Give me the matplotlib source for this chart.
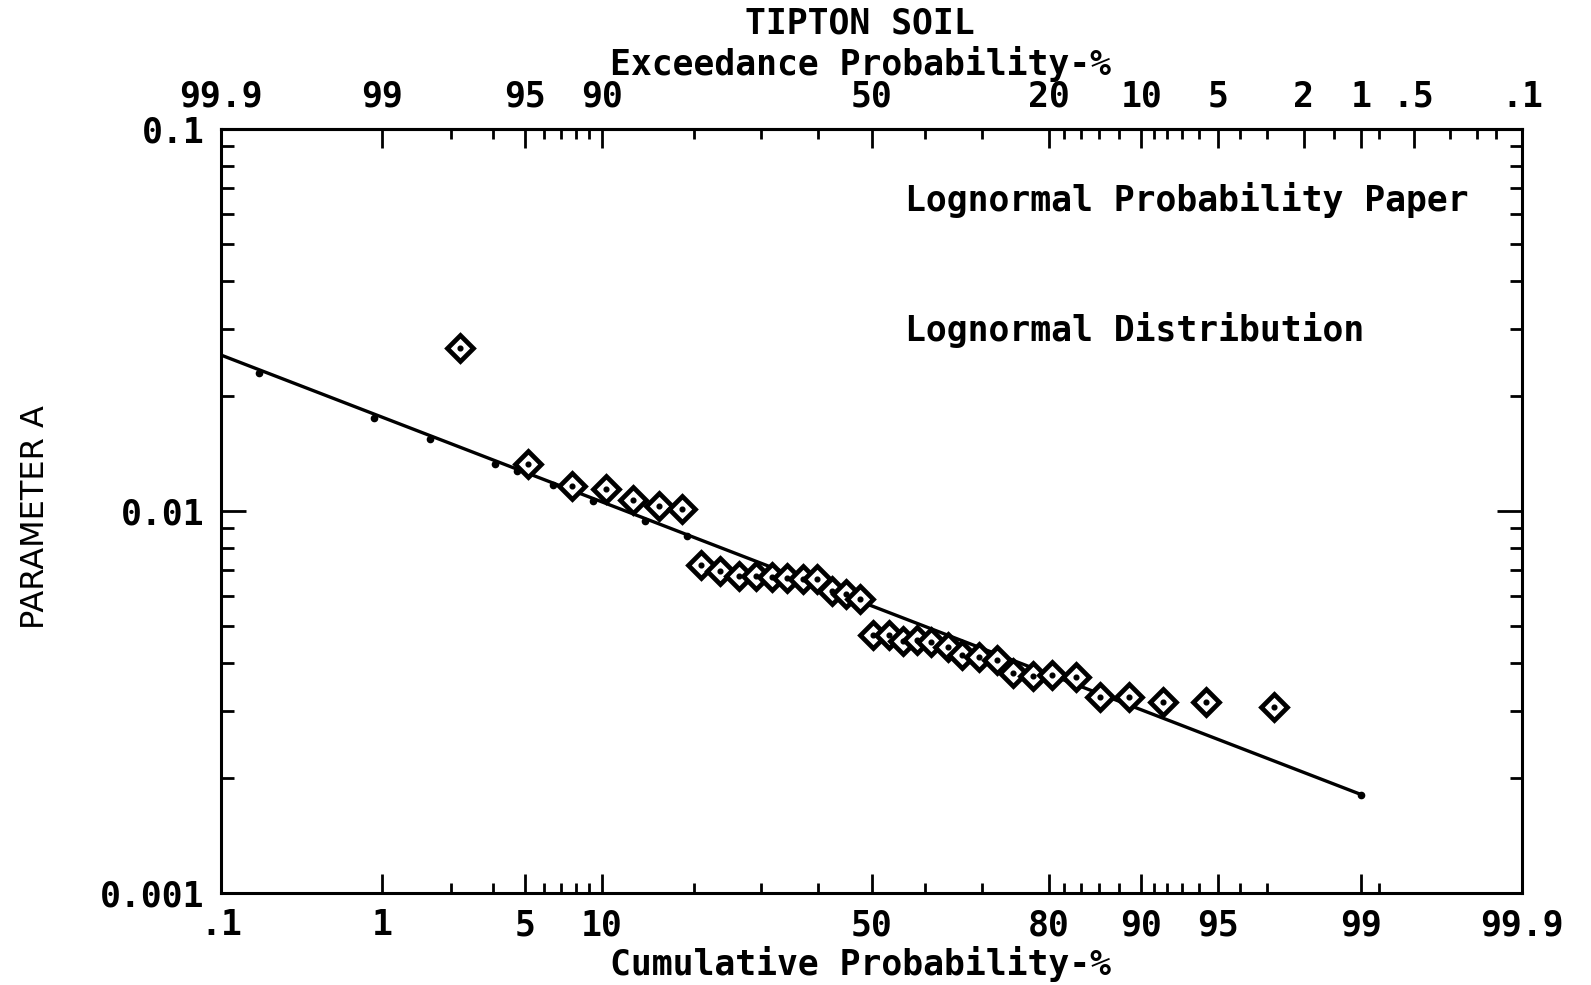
import math
import numpy as np
import matplotlib
matplotlib.use("Agg")
import matplotlib.pyplot as plt
from matplotlib.ticker import NullFormatter

cum_pct = [2.52, 5.14, 7.71, 10.35, 12.88, 15.66, 18.35,
           20.9, 23.64, 26.4, 29.14, 31.84, 34.48, 37.17, 39.75, 42.56, 45.22, 47.9,
           50.2, 53.4, 55.9, 58.6, 61.2, 64.2, 66.6, 69.6, 72.4, 75.0, 77.9, 80.5,
           83.4, 86.1, 88.9, 91.7, 94.4, 97.2]
param_a = [0.0267, 0.0133, 0.0116, 0.0114, 0.0107, 0.0103, 0.0101,
           0.00721, 0.00696, 0.00675, 0.00675, 0.0067, 0.00666, 0.00662, 0.00662, 0.00619, 0.00608, 0.0059,
           0.00475, 0.00473, 0.00457, 0.00459, 0.00454, 0.0044, 0.0042, 0.00416, 0.00408, 0.00377, 0.00369, 0.00372,
           0.00368, 0.00326, 0.00326, 0.00316, 0.00316, 0.00306]

# fitted lognormal line and the small marks hanging on it
fit_pct = [0.1, 99]
fit_val = [0.0256, 0.00181]
mark_pct = [0.18, 0.9, 1.8, 3.7, 4.6, 6.5, 9.3, 14.1, 19.0, 99]
mark_val = [0.0230, 0.0175, 0.0154, 0.0133, 0.0127, 0.0117, 0.0106, 0.0094, 0.0086, 0.00181]

# probability paper ticks
bottom_major = [0.1, 1, 5, 10, 50, 80, 90, 95, 99, 99.9]
bottom_labels = [".1", "1", "5", "10", "50", "80", "90", "95", "99", "99.9"]
bottom_minor = [2.3, 3.6, 6, 7, 8, 9, 20, 30, 40, 60, 70, 82, 84, 86, 88,
                91, 92, 93, 94, 96, 97, 99.2]
top_major = [0.1, 1, 5, 10, 50, 80, 90, 95, 98, 99, 99.5, 99.9]
top_labels = ["99.9", "99", "95", "90", "50", "20", "10", "5", "2", "1", ".5", ".1"]
top_minor = [2.3, 3.6, 6, 7, 8, 9, 20, 30, 40, 60, 70, 82, 84, 86, 88,
             91, 92, 93, 94, 96, 97, 98.6, 99.2, 99.7, 99.8, 99.85]
y_major = [0.001, 0.01, 0.1]
y_labels = ["0.001", "0.01", "0.1"]


def ppf(pct):
    # normal quantile by bisection on erf
    out = []
    for q in np.atleast_1d(np.asarray(pct, float)) / 100.0:
        lo, hi = -8.0, 8.0
        for _ in range(80):
            mid = 0.5 * (lo + hi)
            if 0.5 * (1 + math.erf(mid / math.sqrt(2))) < q:
                lo = mid
            else:
                hi = mid
        out.append(0.5 * (lo + hi))
    return np.array(out)


plt.rcParams["font.family"] = ["DejaVu Sans Mono"]
plt.rcParams["font.weight"] = "bold"
FS = 25

fig = plt.figure(figsize=(15.91, 9.85), dpi=100)
ax = fig.add_axes([221 / 1591, 1 - 893 / 985, 1301 / 1591, 764 / 985])

ax.plot(ppf(fit_pct), fit_val, color="black", lw=2.4)
ax.plot(ppf(mark_pct), mark_val, ls="none", marker="o", ms=4.5, color="black")
ax.plot(ppf(cum_pct), param_a, ls="none", marker="D", ms=13, mfc="white",
        mec="black", mew=3.4)
ax.plot(ppf(cum_pct), param_a, ls="none", marker="o", ms=3.4, color="black")

ax.set_yscale("log")
ax.set_ylim(0.001, 0.1)
ax.set_xlim(ppf(0.1)[0], ppf(99.9)[0])

ax.set_yticks(y_major, y_labels)
ax.yaxis.set_minor_formatter(NullFormatter())
ax.set_xticks(ppf(bottom_major), bottom_labels)
ax.set_xticks(ppf(bottom_minor), minor=True)

ax.tick_params(which="both", direction="in", width=2, labelsize=FS,
               right=True, top=False)
ax.tick_params(axis="x", which="major", length=14, pad=11)
ax.tick_params(axis="x", which="minor", length=7)
ax.tick_params(axis="y", which="major", length=18, pad=12)
ax.tick_params(axis="y", which="minor", length=9)

sec = ax.secondary_xaxis("top")
sec.set_xticks(ppf(top_major), top_labels)
sec.set_xticks(ppf(top_minor), minor=True)
sec.tick_params(which="both", direction="in", width=2, labelsize=FS)
sec.tick_params(which="major", length=14, pad=11)
sec.tick_params(which="minor", length=7)

for s in list(ax.spines.values()) + list(sec.spines.values()):
    s.set_linewidth(2.2)

fig.text(860 / 1591, 1 - 23 / 985, "TIPTON SOIL", fontsize=FS,
         ha="center", va="center")
fig.text(860 / 1591, 1 - 64 / 985, "Exceedance Probability-%", fontsize=FS,
         ha="center", va="center")
fig.text(860 / 1591, 1 - 964 / 985, "Cumulative Probability-%", fontsize=FS,
         ha="center", va="center")
fig.text(36 / 1591, 1 - 517 / 985, "PARAMETER A", fontsize=23, rotation=90,
         ha="center", va="center", family=["DejaVu Sans"], weight="normal")
fig.text(905 / 1591, 1 - 200 / 985, "Lognormal Probability Paper",
         fontsize=FS, ha="left", va="center")
fig.text(905 / 1591, 1 - 330 / 985, "Lognormal Distribution",
         fontsize=FS, ha="left", va="center")

fig.savefig("out.png", dpi=100)
